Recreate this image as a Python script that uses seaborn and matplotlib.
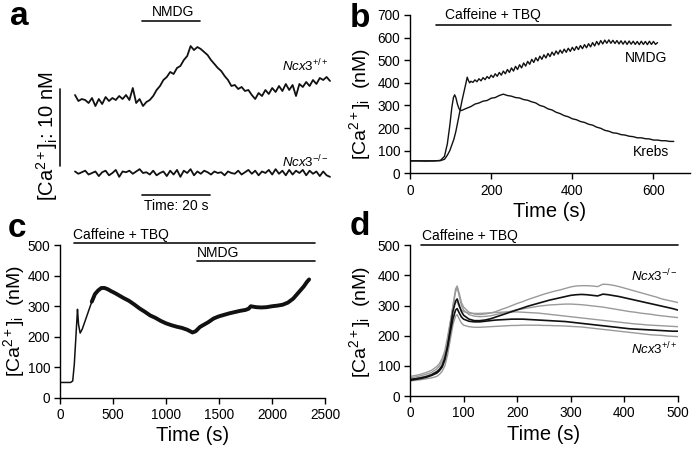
import numpy as np
import pandas as pd
import matplotlib
matplotlib.use("Agg")
import matplotlib.pyplot as plt
import seaborn as sns

# ---------------- DATA ----------------
# panel a : relative [Ca2+]i (nM) sampled once per second
a_time = list(range(0, 76))
a_wt = [0.65, -0.13, 0.13, 0, -0.39, 0.26, -0.78, 0.13, -0.52, 0.39,
        -0.13, 0.26, 0, 0.52, 0.13, 0.65, 0, 1.56, -0.39, 0.13,
        -0.78, -0.26, 0, 0.52, 1.30, 1.82, 2.60, 2.99, 3.64, 3.38,
        4.16, 4.42, 5.19, 5.71, 7.01, 6.49, 6.88, 6.62, 6.23, 5.84,
        5.19, 4.68, 4.16, 3.77, 3.12, 2.60, 1.82, 1.95, 1.43, 1.69,
        1.17, 1.30, 0.65, 0.13, 0.91, 0.52, 1.30, 0.78, 1.56, 1.04,
        1.82, 1.17, 2.08, 1.30, 1.95, 0.52, 2.08, 1.69, 2.34, 1.82,
        2.60, 2.08, 2.86, 2.60, 2.99, 2.47]
a_ko = [0.2, -0.1, 0.1, 0.3, -0.2, 0.0, 0.2, -0.4, 0.1, 0.3,
        -0.3, 0.0, 0.4, -0.5, 0.2, 0.1, 0.3, -0.1, 0.2, 0.5,
        0.0, 0.1, -0.2, 0.3, -0.3, 0.0, 0.2, -0.4, 0.3, -0.2,
        0.4, -0.5, 0.3, 0.0, 0.5, -0.3, 0.2, -0.1, 0.3, 0.1,
        -0.2, 0.2, 0.0, 0.1, -0.3, 0.2, 0.0, -0.1, 0.3, -0.2,
        0.1, 0.4, -0.1, 0.3, -0.3, 0.2, 0.0, 0.4, -0.2, 0.5,
        -0.1, 0.3, -0.3, 0.4, -0.2, 0.3, 0.0, 0.4, -0.3, 0.3,
        -0.1, 0.2, -0.4, 0.2, -0.3, -0.5]
a_nmdg = [19.7, 36.8]      # s
a_scale_t = 20             # s
a_scale_ca = 10            # nM

# panel b
b_krebs_t = [0, 20, 40, 60, 75, 85, 92, 98, 103, 107, 110, 113, 117, 121, 125] + list(range(130, 651, 10))
b_krebs_v = [55, 55, 54, 55, 57, 75, 130, 210, 290, 335, 347, 335, 305, 285, 277,
             280, 288, 295, 306, 311, 319, 322, 332, 335, 344,
             350, 344, 341, 335, 333, 326, 323, 316, 311, 300,
             295, 285, 280, 270, 264, 255, 250, 241, 237, 229,
             225, 217, 213, 204, 199, 190, 186, 179, 177, 171,
             169, 164, 162, 157, 157, 153, 152, 147, 147, 144,
             144, 141, 141]
b_nmdg_t = [0, 20, 40, 60, 75, 85, 92, 98, 103, 108, 113, 118, 123, 128, 133, 138, 141, 144, 147] + list(range(150, 611, 5))
b_nmdg_v = [55, 55, 55, 55, 56, 62, 80, 100, 125, 150, 185, 230, 275, 320, 360, 400, 425, 410, 400,
            407, 402, 413, 405, 418, 409, 423, 414, 428, 419,
            434, 424, 440, 429, 446, 434, 452, 440, 459, 446,
            466, 452, 473, 459, 480, 466, 488, 474, 495, 482,
            504, 490, 511, 497, 518, 504, 524, 510, 530, 516,
            536, 522, 541, 527, 545, 531, 549, 535, 553, 539,
            557, 543, 561, 547, 565, 551, 569, 555, 573, 559,
            578, 563, 583, 568, 587, 572, 589, 575, 590, 575,
            588, 574, 587, 572, 586, 571, 585, 570, 585, 571,
            584, 570, 583, 569, 584, 570, 583, 569, 584, 570,
            583, 570, 578]
b_drug = [64, 644]

# panel c
c_t = [0, 50, 100, 120, 135, 150, 160, 165, 175, 190, 210, 240, 270, 300, 330, 360, 390, 420, 450, 480,
       520, 560, 600, 650, 700, 750, 800, 850, 900, 950, 1000, 1050, 1100, 1150, 1200, 1250, 1280, 1320,
       1360, 1400, 1450, 1500, 1550, 1600, 1650, 1700, 1750, 1780, 1800, 1850, 1900, 1950, 2000, 2050,
       2100, 2150, 2200, 2250, 2300, 2330, 2350]
c_v = [50, 50, 50, 55, 110, 200, 260, 290, 240, 212, 225, 255, 285, 315, 340, 352, 360, 360, 356, 350,
       343, 335, 327, 318, 306, 293, 282, 270, 262, 252, 244, 238, 233, 229, 223, 214, 218, 232,
       240, 248, 260, 267, 272, 277, 281, 285, 288, 292, 300, 297, 296, 297, 300, 302,
       305, 312, 325, 345, 365, 380, 388]
c_drug = [132, 2406]
c_nmdg = [1290, 2406]

# panel d
d_t = [0, 10, 20, 30, 40, 50, 55, 60, 65, 70, 75, 80, 85, 88, 92, 96, 100] + list(range(110, 501, 10))
d_A = [55, 58, 62, 66, 72, 82, 90, 105, 130, 175, 235, 300, 355, 365, 340, 310, 295,
       278, 272, 270, 272, 275, 280, 287, 293, 300, 307, 313, 320, 326, 332, 338, 343, 348, 352, 357, 362,
       365, 366, 366, 365, 363, 371, 370, 367, 363, 358, 353, 348, 343, 338, 333, 328, 322, 318, 314, 310]
d_B = [55, 57, 60, 64, 70, 80, 88, 100, 125, 165, 220, 280, 315, 322, 300, 280, 268,
       255, 250, 250, 252, 256, 262, 268, 274, 280, 286, 292, 298, 303, 308, 313, 318, 322, 326, 330, 334,
       336, 337, 336, 334, 332, 338, 336, 333, 330, 326, 322, 318, 314, 310, 306, 302, 298, 294, 290, 285]
d_C = [60, 63, 67, 72, 78, 90, 100, 115, 140, 185, 240, 295, 345, 360, 330, 300, 285,
       270, 265, 263, 264, 266, 270, 274, 278, 282, 286, 289, 292, 295, 298, 300, 302, 303, 304, 305, 305,
       304, 303, 301, 299, 297, 295, 292, 289, 286, 283, 280, 278, 275, 273, 271, 268, 266, 264, 262, 260]
d_D = [65, 68, 72, 78, 85, 98, 108, 125, 150, 195, 245, 290, 310, 312, 295, 285, 280,
       275, 274, 274, 275, 276, 277, 278, 279, 279, 279, 278, 277, 276, 275, 273, 271, 269, 267, 265, 263,
       261, 259, 257, 255, 253, 251, 249, 247, 245, 243, 241, 239, 238, 236, 235, 234, 233, 232, 231, 230]
d_E = [52, 55, 58, 62, 68, 76, 84, 96, 120, 160, 210, 255, 285, 290, 275, 262, 255,
       248, 246, 246, 248, 250, 252, 253, 254, 255, 255, 255, 254, 253, 252, 251, 250, 249, 248, 247, 245,
       243, 241, 239, 237, 235, 233, 231, 229, 227, 225, 223, 222, 221, 220, 219, 218, 217, 216, 215, 215]
d_F = [50, 52, 54, 57, 60, 65, 72, 82, 100, 135, 185, 235, 265, 270, 255, 242, 235,
       230, 228, 228, 229, 230, 231, 232, 233, 234, 234, 235, 235, 235, 235, 234, 234, 233, 233, 232, 231,
       230, 229, 227, 225, 223, 221, 219, 217, 215, 213, 211, 209, 207, 205, 203, 202, 201, 199, 198, 197]
d_gray = {"A": d_A, "C": d_C, "D": d_D, "F": d_F}
d_black = {"B": d_B, "E": d_E}
d_drug = [20, 500]

# ---------------- STYLE ----------------
sns.set_theme(style="ticks")
plt.rcParams.update({
    "font.family": ["Liberation Sans", "DejaVu Sans"],
    "mathtext.fontset": "custom",
    "mathtext.rm": "Liberation Sans",
    "mathtext.it": "Liberation Sans:italic",
    "mathtext.bf": "Liberation Sans:bold",
    "axes.edgecolor": "black",
    "axes.linewidth": 1.0,
    "xtick.color": "black", "ytick.color": "black",
    "xtick.major.size": 4.5, "ytick.major.size": 4.5,
    "xtick.major.width": 1.0, "ytick.major.width": 1.0,
    "xtick.major.pad": 3.0, "ytick.major.pad": 2.5,
    "xtick.labelsize": 9.8, "ytick.labelsize": 9.8,
    "axes.labelsize": 14.5,
    "axes.labelcolor": "black",
    "text.color": "black",
})

INK = "#111111"
GRAY = "#9a9a9a"
YLAB = r"[Ca$^{2+}$]$_\mathrm{i}$  (nM)"
YLAB_SIZE = 14

fig = plt.figure(figsize=(7.0, 4.54), dpi=100)
W, H = 700.0, 454.0

def rect(l, t, r, b):
    return [l / W, 1 - b / H, (r - l) / W, (b - t) / H]

# ---------------- PANEL a ----------------
ax_a = fig.add_axes(rect(55, 10, 340, 210))
ax_a.set_xlim(-5.88, 77.94)
ax_a.set_ylim(-4.805, 21.17)
ax_a.axis("off")
wt_offset = 9.48
df_a = pd.DataFrame({
    "t": a_time + a_time,
    "ca": [v + wt_offset for v in a_wt] + a_ko,
    "trace": ["wt"] * len(a_time) + ["ko"] * len(a_time),
})
sns.lineplot(data=df_a, x="t", y="ca", units="trace", estimator=None, sort=False,
             color=INK, lw=1.3, ax=ax_a, legend=False)
ax_a.plot(a_nmdg, [19.74, 19.74], color=INK, lw=1.2, clip_on=False)
ax_a.text(np.mean(a_nmdg) + 0.6, 20.9, "NMDG", ha="center", va="center", fontsize=10)
ax_a.plot([19.7, 19.7 + a_scale_t], [-2.86, -2.86], color=INK, lw=1.2, clip_on=False)
ax_a.text(19.7 + a_scale_t / 2 + 0.2, -4.3, "Time: 20 s", ha="center", va="center", fontsize=10, clip_on=False)
ax_a.plot([-4.41, -4.41], [0.91, 0.91 + a_scale_ca], color=INK, lw=1.2, clip_on=False)
ax_a.text(-8.3, 4.8, r"[Ca$^{2+}$]$_\mathrm{i}$: 10 nM", rotation=90, ha="center", va="center",
          fontsize=14.5, clip_on=False)
ax_a.text(74.7, 13.9, r"$\mathit{Ncx3}^{+/+}$", ha="right", va="center", fontsize=9.5)
ax_a.text(74.7, 1.4, r"$\mathit{Ncx3}^{-/-}$", ha="right", va="center", fontsize=9.5)

# ---------------- PANEL b ----------------
ax_b = fig.add_axes(rect(410, 15, 690, 173.3))
df_bk = pd.DataFrame({"t": b_krebs_t, "ca": b_krebs_v})
df_bn = pd.DataFrame({"t": b_nmdg_t, "ca": b_nmdg_v})
sns.lineplot(data=df_bk, x="t", y="ca", color=INK, lw=1.0, ax=ax_b, estimator=None, sort=False)
sns.lineplot(data=df_bn, x="t", y="ca", color=INK, lw=1.0, ax=ax_b, estimator=None, sort=False)
ax_b.set_xlim(0, 690)
ax_b.set_ylim(0, 700)
ax_b.set_xticks([0, 200, 400, 600])
ax_b.set_yticks(range(0, 701, 100))
ax_b.plot(b_drug, [657, 657], color=INK, lw=1.2, clip_on=False)
ax_b.text(87, 701, "Caffeine + TBQ", ha="left", va="center", fontsize=10, clip_on=False)
ax_b.text(582, 511, "NMDG", ha="center", va="center", fontsize=10)
ax_b.text(594, 94, "Krebs", ha="center", va="center", fontsize=10)
ax_b.set_xlabel("Time (s)", labelpad=3)
ax_b.set_ylabel(YLAB, fontsize=YLAB_SIZE)
ax_b.yaxis.set_label_coords(-0.132, 0.44)
sns.despine(ax=ax_b)

# ---------------- PANEL c ----------------
ax_c = fig.add_axes(rect(60, 245.3, 325, 397.7))
df_c = pd.DataFrame({"t": c_t, "ca": c_v})
sns.lineplot(data=df_c, x="t", y="ca", color=INK, lw=1.1, ax=ax_c, estimator=None, sort=False)
sns.lineplot(data=df_c[df_c["t"] >= 300], x="t", y="ca", color=INK, lw=2.8, ax=ax_c,
             estimator=None, sort=False)
ax_c.set_xlim(0, 2500)
ax_c.set_ylim(0, 500)
ax_c.set_xticks(range(0, 2501, 500))
ax_c.set_yticks(range(0, 501, 100))
ax_c.plot(c_drug, [508, 508], color=INK, lw=1.2, clip_on=False)
ax_c.text(120, 533, "Caffeine + TBQ", ha="left", va="center", fontsize=10, clip_on=False)
ax_c.plot(c_nmdg, [448, 448], color=INK, lw=1.2, clip_on=False)
ax_c.text(1292, 474, "NMDG", ha="left", va="center", fontsize=10)
ax_c.set_xlabel("Time (s)", labelpad=3)
ax_c.set_ylabel(YLAB, fontsize=YLAB_SIZE)
ax_c.yaxis.set_label_coords(-0.126, 0.5)
sns.despine(ax=ax_c)

# ---------------- PANEL d ----------------
ax_d = fig.add_axes(rect(410, 245.3, 678, 396))
rows = []
for name, vals in d_gray.items():
    rows += [(t, v, name) for t, v in zip(d_t, vals)]
df_dg = pd.DataFrame(rows, columns=["t", "ca", "cell"])
rows = []
for name, vals in d_black.items():
    rows += [(t, v, name) for t, v in zip(d_t, vals)]
df_db = pd.DataFrame(rows, columns=["t", "ca", "cell"])
sns.lineplot(data=df_dg, x="t", y="ca", units="cell", estimator=None, sort=False,
             color=GRAY, lw=1.0, ax=ax_d, legend=False)
sns.lineplot(data=df_db, x="t", y="ca", units="cell", estimator=None, sort=False,
             color=INK, lw=1.2, ax=ax_d, legend=False)
ax_d.set_xlim(0, 500)
ax_d.set_ylim(0, 500)
ax_d.set_xticks(range(0, 501, 100))
ax_d.set_yticks(range(0, 501, 100))
ax_d.plot(d_drug, [502, 502], color=INK, lw=1.2, clip_on=False)
ax_d.text(22, 530, "Caffeine + TBQ", ha="left", va="center", fontsize=10, clip_on=False)
ax_d.text(500, 397, r"$\mathit{Ncx3}^{-/-}$", ha="right", va="center", fontsize=9.5)
ax_d.text(500, 157, r"$\mathit{Ncx3}^{+/+}$", ha="right", va="center", fontsize=9.5)
ax_d.set_xlabel("Time (s)", labelpad=3)
ax_d.set_ylabel(YLAB, fontsize=YLAB_SIZE)
ax_d.yaxis.set_label_coords(-0.138, 0.49)
sns.despine(ax=ax_d)

# ---------------- panel letters ----------------
for letter, x, y in [("a", 10, 25), ("b", 350, 27), ("c", 8, 237), ("d", 350, 235)]:
    fig.text(x / W, 1 - y / H, letter, ha="left", va="baseline", fontsize=24, fontweight="bold")

fig.savefig("out.png", dpi=100)
